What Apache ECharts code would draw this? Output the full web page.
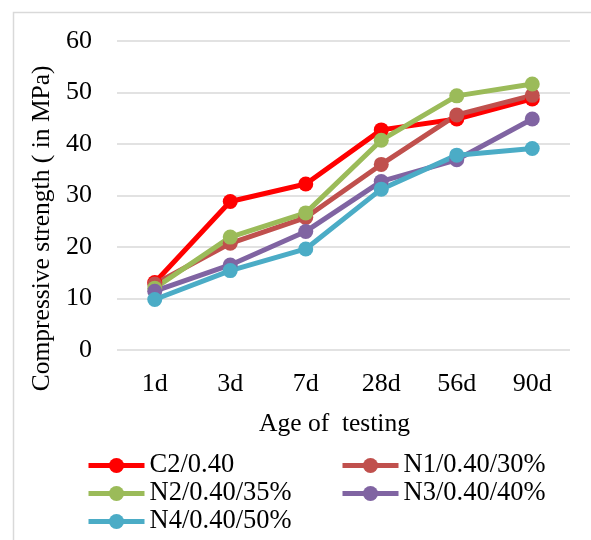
<!DOCTYPE html>
<html>
<head>
<meta charset="utf-8">
<script src="https://cdn.jsdelivr.net/npm/echarts@6/dist/echarts.min.js"></script>
<style>
  html, body { margin: 0; padding: 0; background: #ffffff; }
  #chart { width: 591px; height: 540px; }
</style>
</head>
<body>
<div id="chart"></div>
<script>
// Testing ages
const ages = ['1d', '3d', '7d', '28d', '56d', '90d'];

// Compressive strength (MPa) per mix
const c2_040 = [13.1, 28.8, 32.2, 42.7, 44.8, 48.7];
const n1_040_30 = [12.8, 20.7, 25.7, 36.0, 45.6, 49.4];
const n2_040_35 = [12.0, 21.9, 26.6, 40.7, 49.3, 51.6];
const n3_040_40 = [11.4, 16.5, 23.0, 32.7, 36.9, 44.8];
const n4_040_50 = [9.8, 15.4, 19.6, 31.2, 37.8, 39.1];

const seriesNames = ['C2/0.40', 'N1/0.40/30%', 'N2/0.40/35%', 'N3/0.40/40%', 'N4/0.40/50%'];
const seriesData = [c2_040, n1_040_30, n2_040_35, n3_040_40, n4_040_50];
const seriesColors = ['#FF0000', '#C0504D', '#9BBB59', '#8064A2', '#4BACC6'];

// Value axis ticks
const yMin = 0, yMax = 60, yStep = 10;

const serif = '"Liberation Serif", "Times New Roman", serif';

const chart = echarts.init(document.getElementById('chart'), null, { renderer: 'canvas' });

const legendText = { fontFamily: serif, fontSize: 26.5, color: '#000' };

// Legend laid out as two columns
const legendCells = [
  { name: seriesNames[0], left: 86, top: 452 },
  { name: seriesNames[1], left: 340, top: 452 },
  { name: seriesNames[2], left: 86, top: 480 },
  { name: seriesNames[3], left: 340, top: 480 },
  { name: seriesNames[4], left: 86, top: 508 }
];

chart.setOption({
  backgroundColor: '#ffffff',
  animation: false,
  graphic: [{
    type: 'rect',
    shape: { x: 13.5, y: 12.5, width: 700, height: 700 },
    style: { fill: 'none', stroke: '#d9d9d9', lineWidth: 1.5 },
    silent: true,
    z: -10
  }],
  grid: { left: 117, right: 21, top: 40.7, bottom: 190, containLabel: false },
  legend: legendCells.map(c => ({
    data: [c.name],
    orient: 'horizontal', left: c.left, top: c.top,
    padding: 0,
    itemWidth: 56, itemHeight: 19, itemGap: 0,
    lineStyle: { width: 5 },
    itemStyle: { borderWidth: 0 },
    textStyle: legendText
  })),
  xAxis: {
    type: 'category',
    data: ages,
    boundaryGap: true,
    name: 'Age of  testing',
    nameLocation: 'middle',
    nameGap: 61,
    nameTextStyle: { fontFamily: serif, fontSize: 25.5, color: '#000', padding: [0, 18, 0, 0] },
    axisLine: { show: false },
    axisTick: { show: false },
    axisLabel: { fontFamily: serif, fontSize: 26, color: '#000', margin: 21 }
  },
  yAxis: {
    type: 'value',
    min: yMin, max: yMax, interval: yStep,
    name: 'Compressive strength ( in MPa)',
    nameLocation: 'middle',
    nameGap: 60,
    nameTextStyle: { fontFamily: serif, fontSize: 25.5, color: '#000', padding: [0, 66, 0, 0] },
    axisLine: { show: false },
    axisTick: { show: false },
    axisLabel: { fontFamily: serif, fontSize: 26, color: '#000', margin: 25 },
    splitLine: { show: true, lineStyle: { color: '#d9d9d9', width: 1.5 } }
  },
  series: seriesNames.map((name, i) => ({
    name: name,
    type: 'line',
    data: seriesData[i],
    symbol: 'circle',
    symbolSize: 15,
    color: seriesColors[i],
    lineStyle: { width: 5, color: seriesColors[i] },
    itemStyle: { color: seriesColors[i] }
  }))
});
</script>
</body>
</html>
